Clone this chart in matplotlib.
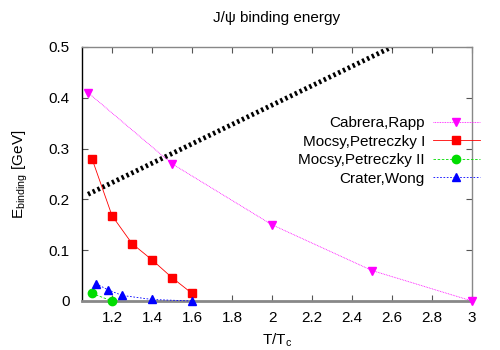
import matplotlib
matplotlib.use("Agg")
import matplotlib.pyplot as plt

plt.rcParams['font.family'] = ['Liberation Sans', 'DejaVu Sans']

# thermal reference line
thermal_T = [1.08, 2.6]
thermal_E = [0.21, 0.5]

cabrera_T = [1.08, 1.5, 2.0, 2.5, 3.0]
cabrera_E = [0.41, 0.27, 0.15, 0.06, 0.0]

mocsy1_T = [1.1, 1.2, 1.3, 1.4, 1.5, 1.6]
mocsy1_E = [0.28, 0.168, 0.113, 0.081, 0.046, 0.015]

mocsy2_T = [1.1, 1.2]
mocsy2_E = [0.015, 0.0]

crater_T = [1.12, 1.18, 1.25, 1.4, 1.6]
crater_E = [0.034, 0.022, 0.011, 0.003, 0.0]

fig = plt.figure(figsize=(5, 3.5), dpi=100)
ax = fig.add_axes([0.164, 0.14, 0.78, 0.726])

ax.plot(thermal_T, thermal_E, color="black", lw=3.5, ls=(0, (0.5, 0.6)))
ax.plot(cabrera_T, cabrera_E, color="#ff00ff", lw=0.6, ls=(0, (1, 1)),
        marker="v", ms=6, label="Cabrera,Rapp", clip_on=False, zorder=3)
ax.plot(mocsy1_T, mocsy1_E, color="red", lw=0.6, ls="-",
        marker="s", ms=6, label="Mocsy,Petreczky I", clip_on=False, zorder=3)
ax.plot(mocsy2_T, mocsy2_E, color="#00dd00", lw=0.6, ls=(0, (3, 2)),
        marker="o", ms=6, label="Mocsy,Petreczky II", clip_on=False, zorder=3)
ax.plot(crater_T, crater_E, color="blue", lw=0.6, ls=(0, (2, 2)),
        marker="^", ms=5.5, label="Crater,Wong", clip_on=False, zorder=3)

ax.set_xlim(1.05, 3.0)
ax.set_ylim(0, 0.5)
ax.set_xticks([1.2, 1.4, 1.6, 1.8, 2.0, 2.2, 2.4, 2.6, 2.8, 3.0])
ax.set_xticklabels(["1.2", "1.4", "1.6", "1.8", "2", "2.2", "2.4", "2.6", "2.8", "3"])
ax.set_yticks([0, 0.1, 0.2, 0.3, 0.4, 0.5])
ax.set_yticklabels(["0", "0.1", "0.2", "0.3", "0.4", "0.5"])
ax.tick_params(direction="in", top=True, right=True, labelsize=11, length=4,
               color="#555555", width=0.8)
ax.tick_params(axis="y", pad=9)
ax.tick_params(axis="x", pad=7)
for name, s in ax.spines.items():
    s.set_color("#888888")
    s.set_linewidth(1.0)
ax.spines["left"].set_color("black")
ax.spines["bottom"].set_linewidth(2.0)

ax.set_xlabel("T/T$_\\mathregular{c}$", fontsize=11, labelpad=5)
ax.set_ylabel("E$_\\mathregular{binding}$ [GeV]", fontsize=11, labelpad=13)
ax.set_title("J/ψ binding energy", fontsize=11, pad=18)

leg = ax.legend(loc="upper right", bbox_to_anchor=(480 / 500, 1 - 116 / 350),
                bbox_transform=fig.transFigure, frameon=False,
                markerfirst=False, fontsize=11, handlelength=3.1,
                labelspacing=0.3, handletextpad=0.5, borderaxespad=0,
                borderpad=0)
for t in leg.get_texts():
    t.set_ha("right")

fig.savefig("out.png", dpi=100)
